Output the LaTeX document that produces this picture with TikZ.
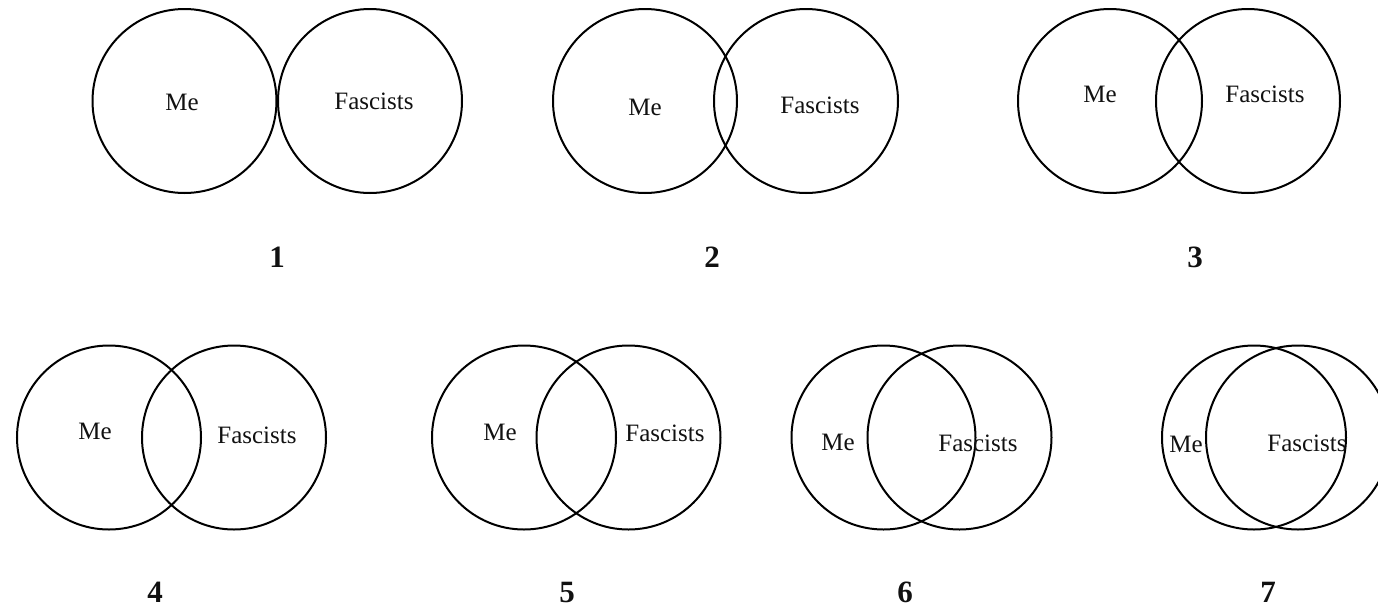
\documentclass[tikz,border=0pt]{standalone}
\usepackage{fontspec}
\setmainfont{Liberation Serif}
\usepackage{xcolor}
\definecolor{cLine}{HTML}{000000}
\definecolor{cText}{HTML}{111111}
\usepackage{tikz}
\usetikzlibrary{positioning}
\tikzset{
  set-circle/.style={draw=cLine,line width=1pt,circle,inner sep=0pt,
    minimum size=92pt},
  set-label/.style={text=cText,inner sep=0pt,font=\fontsize{12.5}{14}\selectfont},
  fig-num/.style={text=cText,inner sep=0pt,font=\fontsize{15.5}{18}\selectfont\bfseries},
}

\begin{document}
\begin{tikzpicture}[x=0.5pt,y=-0.5pt]
  \useasboundingbox (0,0) rectangle (1378,606);
  \clip (0,0) rectangle (1378,606);
  % top row
  \node[set-circle] (me1) at (184.5,101) {};
  \node[set-circle] (fa1) at (370,101) {};
  \node[set-label] (me1-t) at (182,102) {Me};
  \node[set-label] (fa1-t) at (374,101) {Fascists};
  \node[fig-num] (n1) at (277,257) {1};
  \node[set-circle] (me2) at (645,101) {};
  \node[set-circle] (fa2) at (806,101) {};
  \node[set-label] (me2-t) at (645,107) {Me};
  \node[set-label] (fa2-t) at (820,105) {Fascists};
  \node[fig-num] (n2) at (712,257) {2};
  \node[set-circle] (me3) at (1110,101) {};
  \node[set-circle] (fa3) at (1248,101) {};
  \node[set-label] (me3-t) at (1100,94) {Me};
  \node[set-label] (fa3-t) at (1265,94) {Fascists};
  \node[fig-num] (n3) at (1195,257) {3};
  % bottom row
  \node[set-circle] (me4) at (109,437.5) {};
  \node[set-circle] (fa4) at (234,437.5) {};
  \node[set-label] (me4-t) at (95,431) {Me};
  \node[set-label] (fa4-t) at (257,435) {Fascists};
  \node[fig-num] (n4) at (155,592) {4};
  \node[set-circle] (me5) at (524,437.5) {};
  \node[set-circle] (fa5) at (628.5,437.5) {};
  \node[set-label] (me5-t) at (500,432) {Me};
  \node[set-label] (fa5-t) at (665,433) {Fascists};
  \node[fig-num] (n5) at (567,592) {5};
  \node[set-circle] (me6) at (883.5,437.5) {};
  \node[set-circle] (fa6) at (959.5,437.5) {};
  \node[set-label] (me6-t) at (838,442) {Me};
  \node[set-label] (fa6-t) at (978,443) {Fascists};
  \node[fig-num] (n6) at (905,592) {6};
  \node[set-circle] (me7) at (1254,437.5) {};
  \node[set-circle] (fa7) at (1298,437.5) {};
  \node[set-label] (me7-t) at (1186,444) {Me};
  \node[set-label] (fa7-t) at (1307,443) {Fascists};
  \node[fig-num] (n7) at (1268,592) {7};
\end{tikzpicture}
\end{document}
